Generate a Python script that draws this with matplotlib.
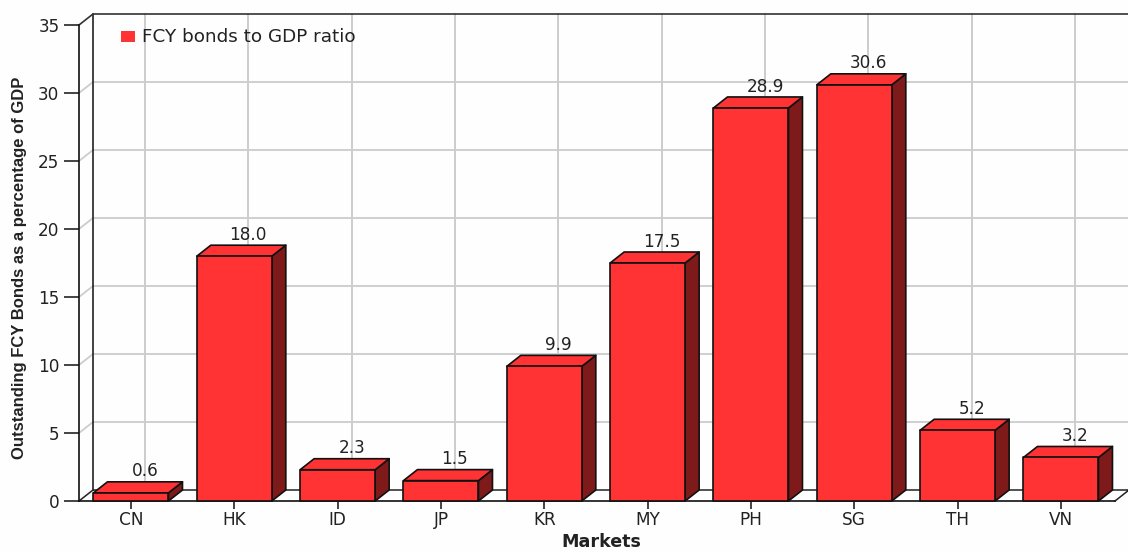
import matplotlib
matplotlib.use("Agg")
import matplotlib.pyplot as plt
from matplotlib.patches import Polygon, Rectangle

markets = ["CN", "HK", "ID", "JP", "KR", "MY", "PH", "SG", "TH", "VN"]
values = [0.6, 18.0, 2.3, 1.5, 9.9, 17.5, 28.9, 30.6, 5.2, 3.2]
value_labels = ["0.6", "18.0", "2.3", "1.5", "9.9", "17.5", "28.9", "30.6", "5.2", "3.2"]
y_ticks = [0, 5, 10, 15, 20, 25, 30, 35]
series_name = "FCY bonds to GDP ratio"
x_title = "Markets"
y_title = "Outstanding FCY Bonds as a percentage of GDP"

W, H = 1128, 552
TXT = 12.2
plt.rcParams["font.family"] = ["DejaVu Sans"]
fig = plt.figure(figsize=(W / 100, H / 100), dpi=100, facecolor="#fefefe")
ax = fig.add_axes([79 / W, 1 - 501 / H, (1115 - 79) / W, (501 - 25) / H])
ax.set_facecolor("none")
ax.set_xlim(-0.503, 9.523)
ax.set_ylim(0, 35)
for s in ["top", "right"]:
    ax.spines[s].set_visible(False)
ax.spines["left"].set_color("#111111")
ax.spines["bottom"].set_color("#111111")
ax.spines["left"].set_linewidth(1.2)
ax.spines["bottom"].set_linewidth(1.2)

px_x = (9.523 + 0.503) / (1115 - 79)
px_y = 35 / (501 - 25)
dx, dy = 14 * px_x, 11 * px_y
xl, xr = -0.503, 9.523
GRID = "#cccccc"

# back wall and floor
for y in y_ticks[1:-1]:
    ax.plot([xl, xl + dx, xr + dx], [y, y + dy, y + dy], color=GRID, lw=1.3, clip_on=False, zorder=1)
for i in range(len(markets)):
    ax.plot([i + dx, i + dx], [dy, 35 + dy], color=GRID, lw=1.4, clip_on=False, zorder=1)
ax.plot([xl + dx, xl + dx], [dy, 35 + dy], color="#222222", lw=1.2, clip_on=False, zorder=2)
ax.plot([xl, xl + dx, xr + dx], [35, 35 + dy, 35 + dy], color="#333333", lw=1.2, clip_on=False, zorder=2)
ax.plot([xl, xl + dx, xr + dx, xr], [0, dy, dy, 0], color="#222222", lw=1.1, clip_on=False, zorder=2)

# 3D bars
bw = 75 * px_x
RED, DARK = "#ff3333", "#7f1a1a"
EDGE = dict(edgecolor="#111111", linewidth=1.2, clip_on=False, zorder=3, joinstyle="round")
for i, (v, lab) in enumerate(zip(values, value_labels)):
    l, r = i - bw / 2, i + bw / 2
    ax.add_patch(Polygon([(r, 0), (r + dx, dy), (r + dx, v + dy), (r, v)], facecolor=DARK, **EDGE))
    ax.add_patch(Polygon([(l, v), (l + dx, v + dy), (r + dx, v + dy), (r, v)], facecolor=RED, **EDGE))
    ax.add_patch(Rectangle((l, 0), bw, v, facecolor=RED, **EDGE))
    ax.text(i + dx, v + dy + 0.1, lab, ha="center", va="bottom", fontsize=TXT, color="#222222", zorder=4)

ax.set_xticks(range(len(markets)), markets)
ax.set_yticks(y_ticks)
ax.tick_params(axis="both", labelsize=TXT, labelcolor="#222222", color="#111111", width=1.1)
ax.tick_params(axis="y", length=11, pad=3)
ax.tick_params(axis="x", length=6, pad=1)

ax.set_xlabel(x_title, fontweight="bold", fontsize=12.6, color="#222222")
ax.xaxis.set_label_coords((601 - 79) / (1115 - 79), -(542 - 501) / (501 - 25))
ax.xaxis.label.set_va("center")
fig.text(20 / W, 1 - 268 / H, y_title, rotation=90, ha="center", va="center",
         fontweight="bold", fontsize=12.0, color="#222222", family=["Liberation Sans"])

# legend
fig.patches.append(Rectangle((121 / W, 1 - 42 / H), 14 / W, 11 / H, transform=fig.transFigure,
                             facecolor=RED, edgecolor="none", zorder=5))
fig.text(142 / W, 1 - 37 / H, series_name, ha="left", va="center", fontsize=13.2, color="#222222")

fig.savefig("out.png", dpi=100, facecolor=fig.get_facecolor())
